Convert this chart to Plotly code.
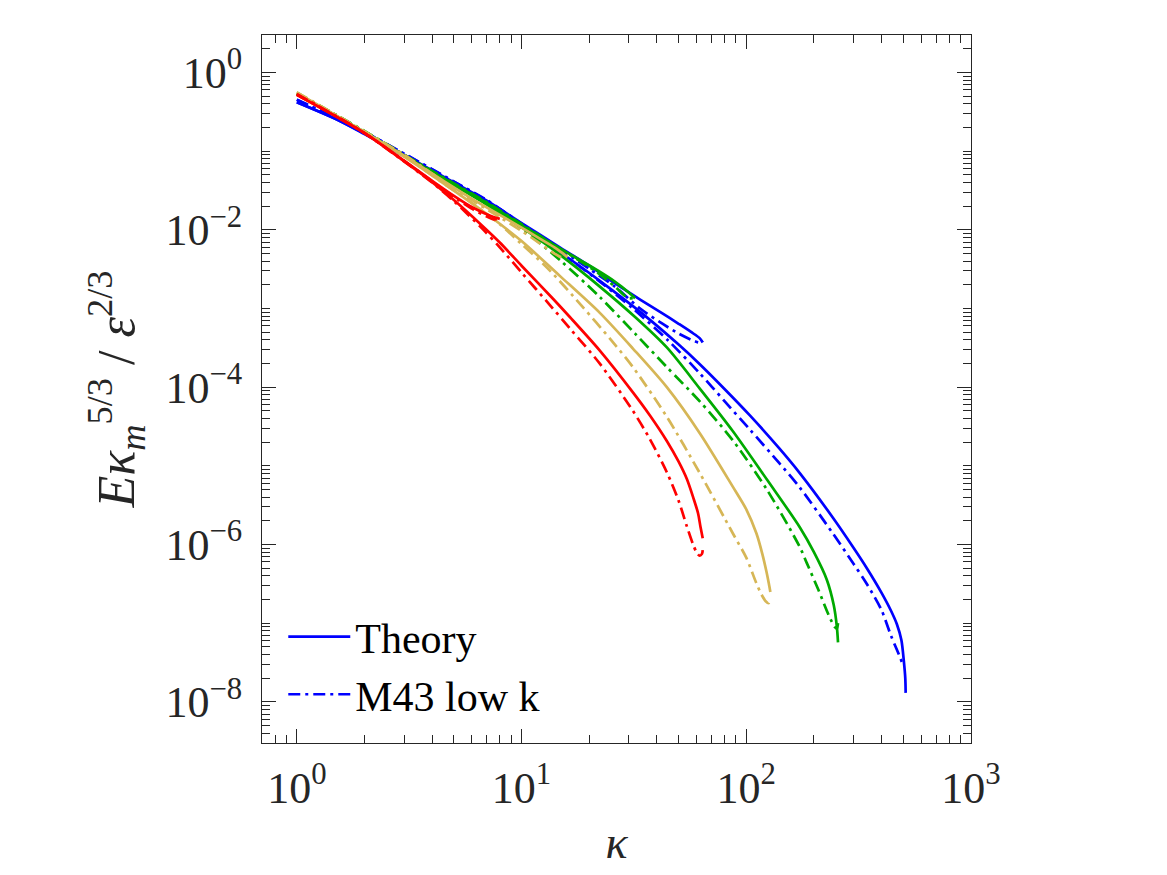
import plotly.graph_objects as go

# ---------------- data ----------------
# RED
red_k_long = [1, 2, 3, 4, 5, 6.7, 8, 10, 13.8, 16.4, 22.3, 31.3, 37.2, 44.3, 50, 54.4, 58, 61, 62.5, 64]
red_theory_long = [0.52, 0.17, 0.0747, 0.0405, 0.0239, 0.0112, 0.0069, 0.0035, 0.00133, 0.00078, 0.000292,
                   0.000086, 0.000044, 0.0000207, 0.0000113, 0.0000068, 0.0000040, 0.0000025, 0.0000017, 0.0000012]
red_k_long_m = [1, 2, 3, 4, 5, 6.7, 8, 10, 13.4, 16.4, 22.3, 31.3, 37.2, 44.3, 50, 54.4, 58, 60.3, 62, 63.5, 64]
red_m43_long = [0.53, 0.17, 0.074, 0.040, 0.0232, 0.0103, 0.0060, 0.00287, 0.00110, 0.00056, 0.000199,
                0.000050, 0.000022, 0.0000083, 0.0000036, 0.0000017, 0.0000010, 0.00000078, 0.00000072,
                0.00000076, 0.00000085]
red_k_short = [1, 2, 3, 4, 5, 6, 7, 7.5, 8]
red_theory_short = [0.52, 0.17, 0.0760, 0.0420, 0.0270, 0.0195, 0.0158, 0.0146, 0.0138]
red_m43_short = [0.53, 0.17, 0.0755, 0.0415, 0.0262, 0.0186, 0.0148, 0.0136, 0.0142]

# GOLD
gold_k_long = [1, 2, 3, 4.33, 7.2, 10, 14.8, 22.3, 31.3, 44.3, 62.1, 87.2, 100, 111, 118, 123, 126, 128]
gold_theory_long = [0.55, 0.175, 0.085, 0.042, 0.0150, 0.0072, 0.0026, 0.00088, 0.00031, 0.000100, 0.000026,
                    0.0000054, 0.0000028, 0.00000138, 0.00000075, 0.00000045, 0.00000032, 0.00000025]
gold_k_long_m = [1, 2, 3, 4.33, 6, 8, 10, 13, 18.7, 25, 31.3, 44.3, 62.1, 87.2, 100, 111, 117, 122, 126, 128]
gold_m43_long = [0.56, 0.178, 0.087, 0.042, 0.022, 0.0118, 0.0066, 0.0033, 0.00105, 0.00040, 0.00018, 0.000042,
                 0.0000081, 0.00000138, 0.00000068, 0.00000032, 0.00000023, 0.00000019, 0.00000018, 0.00000021]
gold_k_short = [1, 2, 3, 4, 6, 8, 10, 12, 14, 15, 16]
gold_theory_short = [0.55, 0.175, 0.088, 0.052, 0.025, 0.0155, 0.0107, 0.0078, 0.0060, 0.0052, 0.0045]
gold_m43_short = [0.56, 0.178, 0.090, 0.052, 0.024, 0.0145, 0.0097, 0.0068, 0.0050, 0.0045, 0.0047]

# GREEN
green_k_long = [1, 2, 3, 5, 7, 10, 15, 22.3, 32, 44.3, 62.1, 87.2, 124, 173, 200, 228, 245, 253, 256]
green_theory_long = [0.54, 0.175, 0.088, 0.037, 0.021, 0.0108, 0.0047, 0.0019, 0.00078, 0.00032, 0.000096,
                     0.0000275, 0.0000066, 0.00000166, 0.00000080, 0.00000036, 0.00000017, 0.000000090, 0.000000057]
green_k_long_m = [1, 2, 3, 5, 7, 10, 15, 22.3, 32, 44.3, 62.1, 87.2, 124, 173, 186, 210, 228, 240, 248, 253, 256]
green_m43_long = [0.55, 0.18, 0.09, 0.038, 0.0213, 0.0105, 0.0040, 0.0014, 0.00048, 0.00018, 0.000066, 0.000021,
                  0.0000049, 0.00000093, 0.00000058, 0.00000026, 0.000000145, 0.000000105, 0.000000089,
                  0.000000085, 0.000000100]
green_k_short = [1, 2, 3, 5, 7, 10, 14, 18, 22, 26, 30, 32]
green_theory_short = [0.54, 0.175, 0.088, 0.038, 0.022, 0.0115, 0.0064, 0.0042, 0.0030, 0.0022, 0.00160, 0.00135]
green_m43_short = [0.55, 0.18, 0.09, 0.039, 0.0225, 0.0118, 0.0064, 0.0041, 0.0028, 0.0019, 0.00135, 0.00140]

# BLUE
blue_k_long = [1, 1.5, 2, 3, 5, 7, 10, 15, 22.3, 34.7, 50, 62.1, 80, 104, 140, 173, 243, 300, 344, 400, 440,
               468, 490, 503, 510, 512]
blue_theory_long = [0.42, 0.255, 0.165, 0.087, 0.039, 0.0215, 0.0112, 0.00508, 0.00225, 0.00085, 0.000348,
                    0.000196, 0.000095, 0.0000435, 0.0000168, 0.0000081, 0.00000219, 0.00000091, 0.00000050,
                    0.000000243, 0.000000145, 0.000000097, 0.000000061, 0.000000032, 0.000000020, 0.000000013]
blue_k_long_m = [1, 1.5, 2, 3, 5, 7, 10, 15, 22.3, 31.3, 45, 62.1, 80, 104, 140, 173, 243, 300, 344, 400, 440,
                 468, 485, 495, 500]
blue_m43_long = [0.45, 0.26, 0.175, 0.093, 0.041, 0.0235, 0.0118, 0.0051, 0.0022, 0.00100, 0.00039, 0.000150,
                 0.0000665, 0.0000287, 0.0000109, 0.0000053, 0.00000138, 0.00000057, 0.000000315, 0.000000146,
                 0.000000070, 0.000000046, 0.000000036, 0.0000000315, 0.000000033]
blue_k_short = [1, 1.5, 2, 3, 5, 7, 10, 14.8, 20, 26, 33.7, 42, 50, 57, 62, 64]
blue_theory_short = [0.42, 0.255, 0.168, 0.090, 0.040, 0.0235, 0.0122, 0.0060, 0.0035, 0.0021, 0.0013, 0.00088,
                     0.00064, 0.00050, 0.00042, 0.00037]
blue_m43_short = [0.45, 0.265, 0.175, 0.093, 0.041, 0.024, 0.0120, 0.0057, 0.0032, 0.0019, 0.00100, 0.00065,
                  0.00048, 0.00040, 0.00037, 0.00039]

legend_names = ["Theory", "M43 low k"]
x_tickvals = [1, 10, 100, 1000]
x_ticktext = ["10<sup>0</sup>", "10<sup>1</sup>", "10<sup>2</sup>", "10<sup>3</sup>"]
y_tickvals = [1e-8, 1e-6, 1e-4, 1e-2, 1]
y_ticktext = ["10<sup>\u22128</sup>", "10<sup>\u22126</sup>", "10<sup>\u22124</sup>", "10<sup>\u22122</sup>",
              "10<sup>0</sup>"]

# ---------------- styles ----------------
BLUE = "#0000FF"
GREEN = "#00AA00"
GOLD = "#D6B656"
RED = "#FF0000"
DASHDOT = "12px,5px,3px,5px"
LW = 2.7
FONT = "Liberation Serif"
AX = "#262626"

fig = go.Figure()

groups = [
    (BLUE, blue_k_long, blue_theory_long, blue_k_long_m, blue_m43_long, blue_k_short, blue_theory_short, blue_m43_short),
    (GREEN, green_k_long, green_theory_long, green_k_long_m, green_m43_long, green_k_short, green_theory_short, green_m43_short),
    (GOLD, gold_k_long, gold_theory_long, gold_k_long_m, gold_m43_long, gold_k_short, gold_theory_short, gold_m43_short),
    (RED, red_k_long, red_theory_long, red_k_long_m, red_m43_long, red_k_short, red_theory_short, red_m43_short),
]

def ln(col, dash=None):
    d = dict(color=col, width=LW, shape="spline", smoothing=0.8)
    if dash:
        d["dash"] = dash
    return d

for gi, (col, kl, tl, klm, ml, ks, ts, ms) in enumerate(groups):
    first = gi == 0
    fig.add_trace(go.Scatter(x=kl, y=tl, mode="lines", line=ln(col),
                             name=legend_names[0], showlegend=first, legendrank=1))
    fig.add_trace(go.Scatter(x=klm, y=ml, mode="lines", line=ln(col, DASHDOT),
                             name=legend_names[1], showlegend=first, legendrank=2))
    fig.add_trace(go.Scatter(x=ks, y=ts, mode="lines", line=ln(col), showlegend=False))
    fig.add_trace(go.Scatter(x=ks, y=ms, mode="lines", line=ln(col, DASHDOT), showlegend=False))

# minor tick positions (axis decoration)
x_minor = [0.8, 0.9] + [m * 10 ** d for d in range(0, 3) for m in range(2, 10)]
y_minor = [m * 10 ** d for d in range(-9, 1) for m in range(1, 10)
           if 3e-9 <= m * 10 ** d <= 3 and not (m == 1 and d % 2 == 0)]

common = dict(type="log", showline=True, linecolor=AX, linewidth=1, mirror="allticks",
              ticks="inside", ticklen=14, tickwidth=1, tickcolor=AX, showgrid=False, zeroline=False,
              tickfont=dict(family=FONT, size=44, color=AX), tickmode="array")

fig.update_xaxes(**common, range=[-0.155, 3.0], tickvals=x_tickvals, ticktext=x_ticktext,
                 ticklabelstandoff=6,
                 minor=dict(tickmode="array", tickvals=x_minor, ticks="inside", ticklen=8,
                            tickwidth=1, tickcolor=AX, showgrid=False),
                 title=dict(text="<i>\u03ba</i>", font=dict(family=FONT, size=46, color=AX), standoff=14))
fig.update_yaxes(**common, range=[-8.523, 0.477], tickvals=y_tickvals, ticktext=y_ticktext,
                 ticklabelstandoff=10,
                 minor=dict(tickmode="array", tickvals=y_minor, ticks="inside", ticklen=8,
                            tickwidth=1, tickcolor=AX, showgrid=False),
                 title=dict(text="<i>E\u03ba</i><sub><i>m</i></sub><sup>5/3</sup> / <i>\u03b5</i><sup>2/3</sup>",
                            font=dict(family=FONT, size=52, color=AX), standoff=14))

fig.update_layout(
    width=1167, height=875,
    margin=dict(l=262, r=196, t=35, b=132, autoexpand=False),
    paper_bgcolor="white", plot_bgcolor="white",
    legend=dict(x=0.03, y=0.02, xanchor="left", yanchor="bottom", bgcolor="rgba(0,0,0,0)",
                font=dict(family=FONT, size=42, color="black"), itemwidth=62, tracegroupgap=0),
)

fig.write_html("out.html")
